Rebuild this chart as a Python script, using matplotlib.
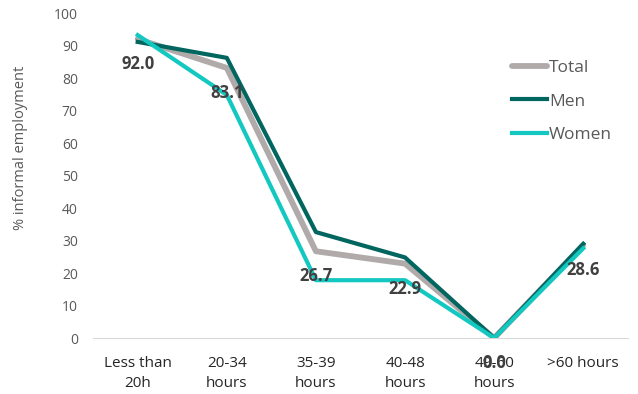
import matplotlib.pyplot as plt

categories = ['Less than\n20h', '20-34\nhours', '35-39\nhours', '40-48\nhours', '49-60\nhours', '>60 hours']
total = [92.0, 83.1, 26.7, 22.9, 0.0, 28.6]
men = [91.1, 86.2, 32.6, 24.8, 0.0, 29.0]
women = [93.2, 74.8, 17.8, 17.8, 0.0, 27.6]
yticks = [0, 10, 20, 30, 40, 50, 60, 70, 80, 90, 100]

plt.rcParams['font.family'] = ['Open Sans', 'DejaVu Sans']

fig = plt.figure(figsize=(6.38, 3.94), dpi=100)
ax = fig.add_axes([0.146, 0.142, 0.838, 0.825])

x = list(range(len(categories)))
ax.plot(x, total, color='#b0abaa', lw=4.2, label='Total', solid_capstyle='round', zorder=2)
ax.plot(x, men, color='#00665f', lw=3, label='Men', zorder=3)
ax.plot(x, women, color='#14c8c2', lw=3, label='Women', zorder=4)

for xi, v in zip(x, total):
    ax.annotate(f'{v:.1f}', (xi, v), xytext=(0, -18), textcoords='offset points',
                ha='center', va='center', fontsize=12, fontweight='bold', color='#404040', zorder=5)

ax.set_xlim(-0.5, 5.5)
ax.set_ylim(0, 100)
ax.set_yticks(yticks)
ax.set_xticks(x)
ax.set_xticklabels(categories, fontsize=11, color='#262626', linespacing=1.45)
ax.tick_params(axis='x', length=0, pad=13)
ax.tick_params(axis='y', length=0, pad=11, labelsize=10, labelcolor='#595959')
for s in ['top', 'right', 'left']:
    ax.spines[s].set_visible(False)
ax.spines['bottom'].set_color('#d9d9d9')
ax.set_ylabel('% informal employment', fontsize=10.5, color='#595959')
ax.yaxis.set_label_coords(-0.122, 0.585)

leg = ax.legend(loc='upper left', bbox_to_anchor=(0.755, 0.905), frameon=False,
                fontsize=12.5, handlelength=2.0, handletextpad=0.1, labelspacing=1.02)
for t in leg.get_texts():
    t.set_color('#595959')

fig.savefig('out.png', dpi=100)
